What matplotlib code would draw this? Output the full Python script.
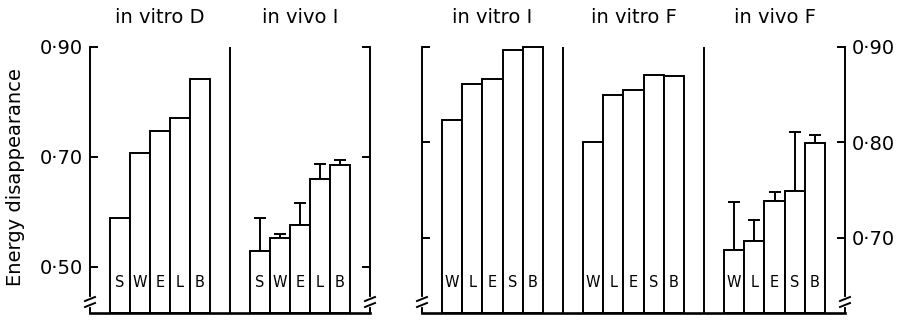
import matplotlib.pyplot as plt
import numpy as np
from matplotlib.transforms import ScaledTranslation
from matplotlib.lines import Line2D

plt.rcParams['font.family'] = ['DejaVu Sans']

# left panel (scale 0.50-0.90)
vitro_D_labels = ['S', 'W', 'E', 'L', 'B']
vitro_D = [0.589, 0.707, 0.747, 0.770, 0.842]
vivo_I_labels = ['S', 'W', 'E', 'L', 'B']
vivo_I = [0.529, 0.552, 0.576, 0.659, 0.685]
vivo_I_err = [0.060, 0.007, 0.040, 0.028, 0.010]

# right panel (scale 0.70-0.90)
vitro_I_labels = ['W', 'L', 'E', 'S', 'B']
vitro_I = [0.823, 0.861, 0.866, 0.897, 0.900]
vitro_F_labels = ['W', 'L', 'E', 'S', 'B']
vitro_F = [0.800, 0.850, 0.855, 0.871, 0.870]
vivo_F_labels = ['W', 'L', 'E', 'S', 'B']
vivo_F = [0.687, 0.697, 0.738, 0.749, 0.799]
vivo_F_err = [0.050, 0.022, 0.010, 0.062, 0.009]

left_ticks = [0.50, 0.70, 0.90]
left_ticklabels = ['0·50', '0·70', '0·90']
right_ticks = [0.70, 0.80, 0.90]
right_ticklabels = ['0·70', '0·80', '0·90']

LW = 1.4
FS = 14
fig = plt.figure(figsize=(8.97, 3.2), dpi=100)
axL = fig.add_axes([90 / 897, 7 / 320, 280 / 897, 266 / 320])
axR = fig.add_axes([422 / 897, 7 / 320, 423 / 897, 266 / 320])


def draw_group(ax, start, labels, vals, err=None):
    ymin = ax.get_ylim()[0]
    x = np.arange(len(vals)) + start
    h = np.array(vals) - ymin
    ax.bar(x, h, bottom=ymin, width=1, align='edge', facecolor='white',
           edgecolor='black', linewidth=LW, zorder=2, clip_on=False)
    if err is not None:
        ax.errorbar(x + 0.5, vals, yerr=[np.zeros(len(err)), err], fmt='none',
                    ecolor='black', elinewidth=LW, capsize=4, capthick=LW,
                    zorder=1, clip_on=False)
    tr = ax.get_xaxis_transform()
    for xi, lab in zip(x, labels):
        ax.text(xi + 0.5, 0.113, lab, transform=tr, ha='center', va='center',
                fontsize=10.5)


def title(ax, xc, txt):
    ax.annotate(txt, xy=(xc, 1), xycoords=('data', 'axes fraction'),
                xytext=(0, 21), textcoords='offset points', ha='center',
                va='center', fontsize=FS)


def brk(ax, xa):
    tr = fig.dpi_scale_trans + ScaledTranslation(xa, 11 / 266, ax.transAxes)
    ax.add_artist(Line2D([0, 0], [-0.03, 0.03], transform=tr, color='white',
                         lw=3, clip_on=False, zorder=5))
    for dy in (-0.03, 0.03):
        ax.add_artist(Line2D([-0.05, 0.05], [dy - 0.02, dy + 0.02], transform=tr,
                             color='black', lw=LW, clip_on=False, zorder=6))


for ax in (axL, axR):
    for s in ('left', 'right'):
        ax.spines[s].set_linewidth(LW)
    ax.spines['top'].set_visible(False)
    ax.spines['bottom'].set_linewidth(1.9)
    ax.set_xticks([])
    ax.tick_params(axis='y', direction='in', length=6, width=LW, left=True,
                   right=True, labelsize=FS, pad=5)

axL.set_xlim(0, 14)
axL.set_ylim(0.416, 0.90)
axL.set_yticks(left_ticks, left_ticklabels)
axL.tick_params(axis='y', labelleft=True, labelright=False)
axL.axvline(7, color='black', lw=LW)
draw_group(axL, 1, vitro_D_labels, vitro_D)
draw_group(axL, 8, vivo_I_labels, vivo_I, vivo_I_err)
title(axL, 3.5, 'in vitro D')
title(axL, 10.5, 'in vivo I')
axL.set_ylabel('Energy disappearance', fontsize=FS)
axL.yaxis.set_label_coords(-0.232, 0.51)

axR.set_xlim(0, 21)
axR.set_ylim(0.621, 0.90)
axR.set_yticks(right_ticks, right_ticklabels)
axR.tick_params(axis='y', labelleft=False, labelright=True)
axR.axvline(7, color='black', lw=LW)
axR.axvline(14, color='black', lw=LW)
draw_group(axR, 1, vitro_I_labels, vitro_I)
draw_group(axR, 8, vitro_F_labels, vitro_F)
draw_group(axR, 15, vivo_F_labels, vivo_F, vivo_F_err)
title(axR, 3.5, 'in vitro I')
title(axR, 10.5, 'in vitro F')
title(axR, 17.5, 'in vivo F')

for ax in (axL, axR):
    brk(ax, 0)
    brk(ax, 1)

fig.savefig('out.png', dpi=100)
